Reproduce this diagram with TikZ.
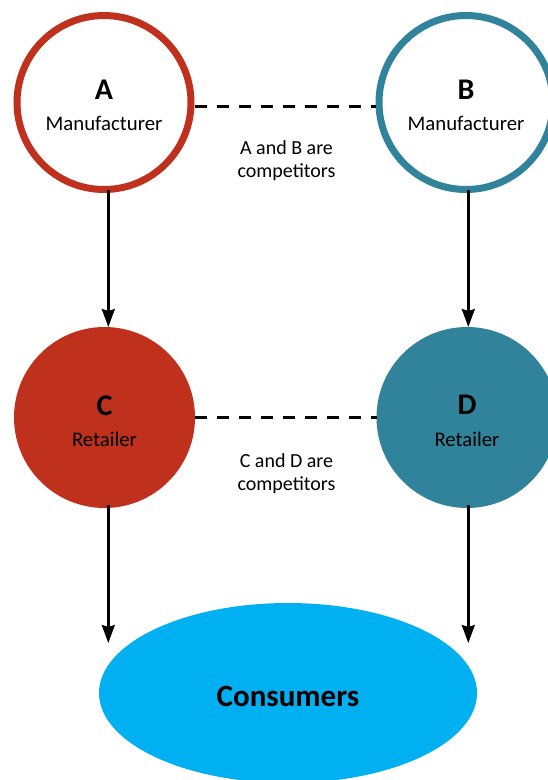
\documentclass[tikz,border=0pt]{standalone}
\usepackage{fontspec}
\setmainfont{Carlito}
\usetikzlibrary{arrows.meta,shapes.geometric}
\definecolor{cred}{RGB}{191,49,28}
\definecolor{cteal}{RGB}{49,131,155}
\definecolor{cblue}{RGB}{0,176,240}
\tikzset{
  ring/.style={circle,draw,line width=7pt,fill=white,minimum size=174pt,inner sep=0pt},
  disc/.style={circle,minimum size=181pt,inner sep=0pt,outer sep=0pt},
  letter/.style={anchor=base,inner sep=0pt,font=\fontsize{30}{35}\selectfont\bfseries},
  role/.style={anchor=base,inner sep=0pt,font=\fontsize{20.8}{24}\selectfont},
  note/.style={anchor=base,inner sep=0pt,align=center,font=\fontsize{20}{23}\selectfont},
  dashline/.style={line width=3pt,dash pattern=on 12pt off 10pt},
  arr/.style={line width=2.4pt,-{Stealth[length=18pt,width=13pt,inset=2pt]}}
}
\begin{document}
\begin{tikzpicture}[x=1pt,y=-1pt]
\useasboundingbox (0,0) rectangle (547,780);
% nodes
\node[ring,draw=cred] (A) at (104,102.5) {};
\node[ring,draw=cteal] (B) at (466,102.5) {};
\node[disc,fill=cred] (C) at (104.5,417.5) {};
\node[disc,fill=cteal] (D) at (467,417.5) {};
\node[ellipse,fill=cblue,minimum width=378pt,minimum height=180pt,inner sep=0pt] (E) at (288,693) {};
% texts
\node[letter] (Al) at (104,99) {A};
\node[role] (Ar) at (104,130) {Manufacturer};
\node[letter] (Bl) at (466,99) {B};
\node[role] (Br) at (466,130) {Manufacturer};
\node[letter] (Cl) at (104.5,415) {C};
\node[role] (Cr) at (104.5,446) {Retailer};
\node[letter] (Dl) at (467,414) {D};
\node[role] (Dr) at (467,446) {Retailer};
\node[anchor=base,inner sep=0pt,font=\fontsize{31}{36}\selectfont\bfseries] (El) at (288,706.5) {Consumers};
\node[note] (ab1) at (286.5,154) {A and B are};
\node[note] (ab2) at (286.5,177) {competitors};
\node[note] (cd1) at (286.5,467) {C and D are};
\node[note] (cd2) at (286.5,490) {competitors};
% connectors
\draw[dashline] (A.east |- 0,106) -- (B.west |- 0,106);
\draw[dashline] (C.east) -- (D.west);
\coordinate (a1) at (108.3,190);
\coordinate (c0) at (108.3,327);
\coordinate (b1) at (468.3,190);
\coordinate (d0) at (468.3,327);
\coordinate (c1) at (108.3,505);
\coordinate (d1) at (468.3,505);
\coordinate (e1) at (108.3,643);
\coordinate (e2) at (468.3,643);
\draw[arr] (a1) -- (c0);
\draw[arr] (b1) -- (d0);
\draw[arr] (c1) -- (e1);
\draw[arr] (d1) -- (e2);
\end{tikzpicture}
\end{document}
